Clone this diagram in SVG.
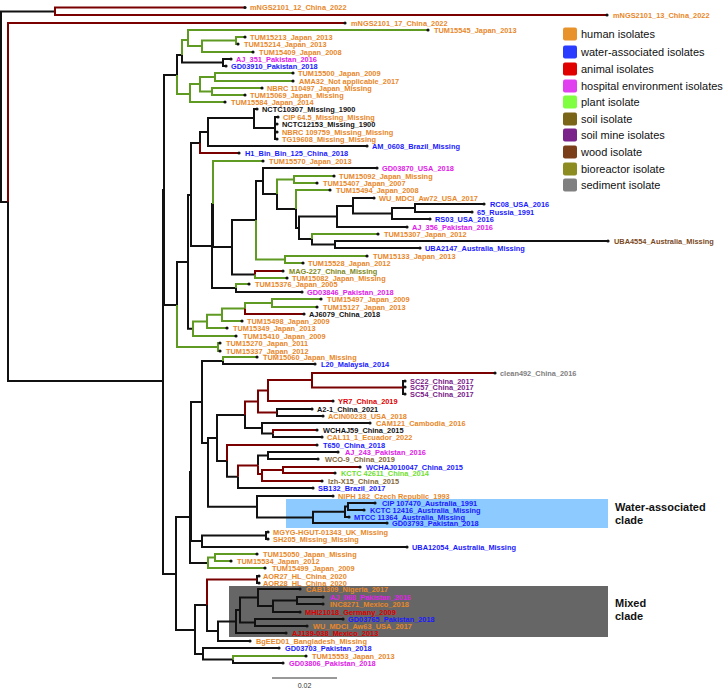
<svg xmlns="http://www.w3.org/2000/svg" width="725" height="688" viewBox="0 0 725 688">
<style>
.e{fill:none;stroke-width:2;stroke-linejoin:miter}
.k{stroke:#111}.g{stroke:#5f9a22}.r{stroke:#7a0000}
text{font-family:"Liberation Sans",Arial,sans-serif}
.l{font-size:7.4px;font-weight:bold}
.or{fill:#e8882a}.bl{fill:#1a1aff}.mg{fill:#e020e8}.rd{fill:#dd0000}.bk{fill:#111}.pu{fill:#7a1a8a}.wd{fill:#7b4a1e}.so{fill:#85683a}.bio{fill:#7f8a20}.pl{fill:#6fe030}.gy{fill:#808080}
.lg{font-size:11px;fill:#111}
.cl{font-size:11px;font-weight:bold;fill:#111}
.d{fill:#111}
</style>
<rect id="water-box" x="286" y="499" width="322" height="29" fill="#8ccaff"/>
<rect id="mixed-box" x="229" y="586" width="379" height="51" fill="#666666"/>
<g id="connectors">
<path class="e k" d="M1,107V11.5H55M1,107V202H8M8,202V381H163M163,381V190H164M163,381V574H176M164,190V75H177M164,190V305H177M177,75V55H182M182,55V62.5H223M223,62.5V59H231M223,62.5V66H226M177,305V262H188M188,262V195H191M188,262V328.7H193M191,195V143H200M191,195V246H212M200,143V132H208M208,132V118H254M208,132V146H367M254,118V109H257M254,118V128H275M275,128V117H278M275,128V124H277M275,128V132H277M275,128V139H277M212,246V204H213M212,246V288H236M213,204V247H232M232,247V220H256M232,247V274.5H255M256,220V181H263M263,181V168H377M263,181V194H277M277,194V209H296M296,209V228H299M299,228V216.5H337M299,228V239H312M337,216.5V206H353M337,216.5V227H407M353,206V198H374M353,206V213.5H392M392,213.5V208H415M392,213.5V219H430M415,208V204H484M415,208V212H472M312,239V244.5H335M335,244.5V241H608M335,244.5V248H420M236,288V292H302M176,574V517H190M176,574V630H195M190,517V472H191M190,517V563H208M191,472V402H202M191,472V541H202M202,402V361H223M202,402V443H208M223,361V364H315M202,541V535.5H266M202,541V547H407M266,535.5V532H268M266,535.5V539H268M208,443V438H217M208,443V506.7H257M217,438V415H245M217,438V461H227M245,415V428H262M403,387.5V381H405M403,387.5V387H405M403,387.5V394H405M277,412.5V409H312M277,412.5V416H323M262,428V423H370M262,428V433.5H273M273,433.5V437H322M227,461V476.75H238M238,476.75V488H313M258,465.5V455.5H268M268,455.5V452H338M268,455.5V459H318M257,506.7V496H333M257,506.7V517.4H313M313,517.4V511.75H345M313,517.4V523H387M345,511.75V506.5H348M345,511.75V517H349M348,506.5V503H375M348,506.5V510H364M195,630V605H207M195,630V654H203M207,605V631H218M257,579.5V576H259M257,579.5V583H259M218,631V621.5H236M218,631V641H250M236,621.5V610H240M236,621.5V633H286M240,610V597.5H258M240,610V622.5H255M258,597.5V589H300M258,597.5V606H273M273,606V600.5H297M273,606V612H300M297,600.5V597H323M297,600.5V604H323M255,622.5V619H343M255,622.5V626H307M203,654V648H279M203,654V659.5H233M233,659.5V663H283"/>
<path class="e g" d="M177,75V94H190M182,55V40H188M188,40V30H428M188,40V46H202M202,46V40.5H236M202,46V52H253M236,40.5V37H245M236,40.5V44H238M190,94V84H200M190,94V102H225M200,84V77H215M200,84V91.5H212M215,77V73H293M215,77V81H293M212,91.5V88H262M212,91.5V95H245M177,305V347H218M218,347V343H220M218,347V351H220M213,204V161H263M256,220V259.5H285M277,194V179.5H294M294,179.5V176H334M294,179.5V183H317M296,209V190H330M312,239V234H378M285,259.5V256H367M285,259.5V263H303M255,274.5V278H287M236,288V284H249M193,328.7V321.4H207M193,328.7V336H236M207,321.4V314.75H222M207,321.4V328H227M222,314.75V308.5H245M222,314.75V321H242M245,308.5V303H272M272,303V299H321M272,303V307H317M223,361V357H257M208,563V557.5H215M208,563V568H265M215,557.5V554H257M215,557.5V561H231M233,659.5V656H306"/>
<path class="e r" d="M55,11.5V7.5H245M55,11.5V15H607M8,202V23H345M200,143V153H239M255,274.5V271H283M245,308.5V314H304M245,415V401.5H258M258,401.5V390.5H268M258,401.5V412.5H277M268,390.5V380H312M268,390.5V401H333M312,380V373H495M312,380V387.5H403M273,433.5V430H317M227,461V445H317M238,476.75V465.5H258M258,465.5V474H262M262,474V470H283M262,474V481H322M283,470V467H360M283,470V473H335M207,605V579.5H257"/>
</g>
<g id="leaves">
<g id="n1"><circle class="d" cx="245" cy="7.5" r="1.6"/><text class="l or" x="250" y="10.1">mNGS2101_12_China_2022</text></g>
<g id="n2"><circle class="d" cx="607" cy="15" r="1.6"/><text class="l or" x="613" y="17.6">mNGS2101_13_China_2022</text></g>
<g id="n3"><circle class="d" cx="345" cy="23" r="1.6"/><text class="l or" x="351" y="25.6">mNGS2101_17_China_2022</text></g>
<g id="n4"><circle class="d" cx="428" cy="30" r="1.6"/><text class="l or" x="434" y="32.6">TUM15545_Japan_2013</text></g>
<g id="n5"><circle class="d" cx="245" cy="37" r="1.6"/><text class="l or" x="250" y="39.6">TUM15213_Japan_2013</text></g>
<g id="n6"><circle class="d" cx="238" cy="44" r="1.6"/><text class="l or" x="244" y="46.6">TUM15214_Japan_2013</text></g>
<g id="n7"><circle class="d" cx="253" cy="52" r="1.6"/><text class="l or" x="259" y="54.6">TUM15409_Japan_2008</text></g>
<g id="n8"><circle class="d" cx="231" cy="59" r="1.6"/><text class="l mg" x="236" y="61.6">AJ_351_Pakistan_2016</text></g>
<g id="n9"><circle class="d" cx="226" cy="66" r="1.6"/><text class="l bl" x="231" y="68.6">GD03910_Pakistan_2018</text></g>
<g id="n10"><circle class="d" cx="293" cy="73" r="1.6"/><text class="l or" x="298" y="75.6">TUM15500_Japan_2009</text></g>
<g id="n11"><circle class="d" cx="293" cy="81" r="1.6"/><text class="l or" x="299" y="83.6">AMA32_Not applicable_2017</text></g>
<g id="n12"><circle class="d" cx="262" cy="88" r="1.6"/><text class="l or" x="267" y="90.6">NBRC 110497_Japan_Missing</text></g>
<g id="n13"><circle class="d" cx="245" cy="95" r="1.6"/><text class="l or" x="250" y="97.6">TUM15069_Japan_Missing</text></g>
<g id="n14"><circle class="d" cx="225" cy="102" r="1.6"/><text class="l or" x="231" y="104.6">TUM15584_Japan_2014</text></g>
<g id="n15"><circle class="d" cx="257" cy="109" r="1.6"/><text class="l bk" x="262" y="111.6">NCTC10307_Missing_1900</text></g>
<g id="n16"><circle class="d" cx="278" cy="117" r="1.6"/><text class="l or" x="283" y="119.6">CIP 64.5_Missing_Missing</text></g>
<g id="n17"><circle class="d" cx="277" cy="124" r="1.6"/><text class="l bk" x="282" y="126.6">NCTC12153_Missing_1900</text></g>
<g id="n18"><circle class="d" cx="277" cy="132" r="1.6"/><text class="l or" x="282" y="134.6">NBRC 109759_Missing_Missing</text></g>
<g id="n19"><circle class="d" cx="277" cy="139" r="1.6"/><text class="l or" x="282" y="141.6">TG19608_Missing_Missing</text></g>
<g id="n20"><circle class="d" cx="367" cy="146" r="1.6"/><text class="l bl" x="372" y="148.6">AM_0608_Brazil_Missing</text></g>
<g id="n21"><circle class="d" cx="239" cy="153" r="1.6"/><text class="l bl" x="245" y="155.6">H1_Bin_Bin_125_China_2018</text></g>
<g id="n22"><circle class="d" cx="263" cy="161" r="1.6"/><text class="l or" x="269" y="163.6">TUM15570_Japan_2013</text></g>
<g id="n23"><circle class="d" cx="377" cy="168" r="1.6"/><text class="l mg" x="382" y="170.6">GD03870_USA_2018</text></g>
<g id="n24"><circle class="d" cx="334" cy="176" r="1.6"/><text class="l or" x="339" y="178.6">TUM15092_Japan_Missing</text></g>
<g id="n25"><circle class="d" cx="317" cy="183" r="1.6"/><text class="l or" x="323" y="185.6">TUM15407_Japan_2007</text></g>
<g id="n26"><circle class="d" cx="330" cy="190" r="1.6"/><text class="l or" x="336" y="192.6">TUM15494_Japan_2008</text></g>
<g id="n27"><circle class="d" cx="374" cy="198" r="1.6"/><text class="l or" x="379" y="200.6">WU_MDCI_Aw72_USA_2017</text></g>
<g id="n28"><circle class="d" cx="484" cy="204" r="1.6"/><text class="l bl" x="490" y="206.6">RC08_USA_2016</text></g>
<g id="n29"><circle class="d" cx="472" cy="212" r="1.6"/><text class="l bl" x="477" y="214.6">65_Russia_1991</text></g>
<g id="n30"><circle class="d" cx="430" cy="219" r="1.6"/><text class="l bl" x="435" y="221.6">RS03_USA_2016</text></g>
<g id="n31"><circle class="d" cx="407" cy="227" r="1.6"/><text class="l mg" x="412" y="229.6">AJ_356_Pakistan_2016</text></g>
<g id="n32"><circle class="d" cx="378" cy="234" r="1.6"/><text class="l or" x="384" y="236.6">TUM15307_Japan_2012</text></g>
<g id="n33"><circle class="d" cx="608" cy="241" r="1.6"/><text class="l wd" x="614" y="243.6">UBA4554_Australia_Missing</text></g>
<g id="n34"><circle class="d" cx="420" cy="248" r="1.6"/><text class="l bl" x="425" y="250.6">UBA2147_Australia_Missing</text></g>
<g id="n35"><circle class="d" cx="367" cy="256" r="1.6"/><text class="l or" x="373" y="258.6">TUM15133_Japan_2013</text></g>
<g id="n36"><circle class="d" cx="303" cy="263" r="1.6"/><text class="l or" x="308" y="265.6">TUM15528_Japan_2012</text></g>
<g id="n37"><circle class="d" cx="283" cy="271" r="1.6"/><text class="l bio" x="289" y="273.6">MAG-227_China_Missing</text></g>
<g id="n38"><circle class="d" cx="287" cy="278" r="1.6"/><text class="l or" x="292" y="280.6">TUM15082_Japan_Missing</text></g>
<g id="n39"><circle class="d" cx="249" cy="284" r="1.6"/><text class="l or" x="255" y="286.6">TUM15376_Japan_2005</text></g>
<g id="n40"><circle class="d" cx="302" cy="292" r="1.6"/><text class="l mg" x="307" y="294.6">GD03846_Pakistan_2018</text></g>
<g id="n41"><circle class="d" cx="321" cy="299" r="1.6"/><text class="l or" x="327" y="301.6">TUM15497_Japan_2009</text></g>
<g id="n42"><circle class="d" cx="317" cy="307" r="1.6"/><text class="l or" x="323" y="309.6">TUM15127_Japan_2013</text></g>
<g id="n43"><circle class="d" cx="304" cy="314" r="1.6"/><text class="l bk" x="309" y="316.6">AJ6079_China_2018</text></g>
<g id="n44"><circle class="d" cx="242" cy="321" r="1.6"/><text class="l or" x="247" y="323.6">TUM15498_Japan_2009</text></g>
<g id="n45"><circle class="d" cx="227" cy="328" r="1.6"/><text class="l or" x="233" y="330.6">TUM15349_Japan_2013</text></g>
<g id="n46"><circle class="d" cx="236" cy="336" r="1.6"/><text class="l or" x="243" y="338.6">TUM15410_Japan_2009</text></g>
<g id="n47"><circle class="d" cx="220" cy="343" r="1.6"/><text class="l or" x="226" y="345.6">TUM15270_Japan_2011</text></g>
<g id="n48"><circle class="d" cx="220" cy="351" r="1.6"/><text class="l or" x="226" y="353.6">TUM15337_Japan_2012</text></g>
<g id="n49"><circle class="d" cx="257" cy="357" r="1.6"/><text class="l or" x="263" y="359.6">TUM15060_Japan_Missing</text></g>
<g id="n50"><circle class="d" cx="315" cy="364" r="1.6"/><text class="l bl" x="321" y="366.6">L20_Malaysia_2014</text></g>
<g id="n51"><circle class="d" cx="495" cy="373" r="1.6"/><text class="l gy" x="500" y="375.6">clean492_China_2016</text></g>
<g id="n52"><circle class="d" cx="405" cy="381" r="1.6"/><text class="l pu" x="410" y="383.6">SC22_China_2017</text></g>
<g id="n53"><circle class="d" cx="405" cy="387" r="1.6"/><text class="l pu" x="410" y="389.6">SC57_China_2017</text></g>
<g id="n54"><circle class="d" cx="405" cy="394" r="1.6"/><text class="l pu" x="410" y="396.6">SC54_China_2017</text></g>
<g id="n55"><circle class="d" cx="333" cy="401" r="1.6"/><text class="l rd" x="338" y="403.6">YR7_China_2019</text></g>
<g id="n56"><circle class="d" cx="312" cy="409" r="1.6"/><text class="l bk" x="317" y="411.6">A2-1_China_2021</text></g>
<g id="n57"><circle class="d" cx="323" cy="416" r="1.6"/><text class="l or" x="328" y="418.6">ACIN00233_USA_2018</text></g>
<g id="n58"><circle class="d" cx="370" cy="423" r="1.6"/><text class="l or" x="376" y="425.6">CAM121_Cambodia_2016</text></g>
<g id="n59"><circle class="d" cx="317" cy="430" r="1.6"/><text class="l bk" x="323" y="432.6">WCHAJ59_China_2015</text></g>
<g id="n60"><circle class="d" cx="322" cy="437" r="1.6"/><text class="l or" x="327" y="439.6">CAL11_1_Ecuador_2022</text></g>
<g id="n61"><circle class="d" cx="317" cy="445" r="1.6"/><text class="l bl" x="323" y="447.6">T650_China_2018</text></g>
<g id="n62"><circle class="d" cx="338" cy="452" r="1.6"/><text class="l mg" x="345" y="454.6">AJ_243_Pakistan_2016</text></g>
<g id="n63"><circle class="d" cx="318" cy="459" r="1.6"/><text class="l so" x="325" y="461.6">WCO-9_China_2019</text></g>
<g id="n64"><circle class="d" cx="360" cy="467" r="1.6"/><text class="l bl" x="366" y="469.6">WCHAJ010047_China_2015</text></g>
<g id="n65"><circle class="d" cx="335" cy="473" r="1.6"/><text class="l pl" x="341" y="475.6">KCTC 42611_China_2014</text></g>
<g id="n66"><circle class="d" cx="322" cy="481" r="1.6"/><text class="l so" x="328" y="483.6">lzh-X15_China_2015</text></g>
<g id="n67"><circle class="d" cx="313" cy="488" r="1.6"/><text class="l bl" x="318" y="490.6">SB132_Brazil_2017</text></g>
<g id="n68"><circle class="d" cx="333" cy="496" r="1.6"/><text class="l or" x="338" y="498.6">NIPH 182_Czech Republic_1993</text></g>
<g id="n69"><circle class="d" cx="375" cy="503" r="1.6"/><text class="l bl" x="382" y="505.6">CIP 107470_Australia_1991</text></g>
<g id="n70"><circle class="d" cx="364" cy="510" r="1.6"/><text class="l bl" x="370" y="512.6">KCTC 12416_Australia_Missing</text></g>
<g id="n71"><circle class="d" cx="349" cy="517" r="1.6"/><text class="l bl" x="354" y="519.6">MTCC 11364_Australia_Missing</text></g>
<g id="n72"><circle class="d" cx="387" cy="523" r="1.6"/><text class="l bl" x="392" y="525.6">GD03793_Pakistan_2018</text></g>
<g id="n73"><circle class="d" cx="268" cy="532" r="1.6"/><text class="l or" x="273" y="534.6">MGYG-HGUT-01343_UK_Missing</text></g>
<g id="n74"><circle class="d" cx="268" cy="539" r="1.6"/><text class="l or" x="273" y="541.6">SH205_Missing_Missing</text></g>
<g id="n75"><circle class="d" cx="407" cy="547" r="1.6"/><text class="l bl" x="412" y="549.6">UBA12054_Australia_Missing</text></g>
<g id="n76"><circle class="d" cx="257" cy="554" r="1.6"/><text class="l or" x="263" y="556.6">TUM15050_Japan_Missing</text></g>
<g id="n77"><circle class="d" cx="231" cy="561" r="1.6"/><text class="l or" x="237" y="563.6">TUM15534_Japan_2012</text></g>
<g id="n78"><circle class="d" cx="265" cy="568" r="1.6"/><text class="l or" x="272" y="570.6">TUM15499_Japan_2009</text></g>
<g id="n79"><circle class="d" cx="259" cy="576" r="1.6"/><text class="l or" x="263" y="578.6">AOR27_HL_China_2020</text></g>
<g id="n80"><circle class="d" cx="259" cy="583" r="1.6"/><text class="l or" x="263" y="585.6">AOR28_HL_China_2020</text></g>
<g id="n81"><circle class="d" cx="300" cy="589" r="1.6"/><text class="l or" x="306" y="591.6">CAB1309_Nigeria_2017</text></g>
<g id="n82"><circle class="d" cx="323" cy="597" r="1.6"/><text class="l mg" x="330" y="599.6">AJ_068_Pakistan_2016</text></g>
<g id="n83"><circle class="d" cx="323" cy="604" r="1.6"/><text class="l or" x="330" y="606.6">INC8271_Mexico_2018</text></g>
<g id="n84"><circle class="d" cx="300" cy="612" r="1.6"/><text class="l rd" x="305" y="614.6">MHI21018_Germany_2009</text></g>
<g id="n85"><circle class="d" cx="343" cy="619" r="1.6"/><text class="l bl" x="348" y="621.6">GD03765_Pakistan_2018</text></g>
<g id="n86"><circle class="d" cx="307" cy="626" r="1.6"/><text class="l or" x="313" y="628.6">WU_MDCI_Aw63_USA_2017</text></g>
<g id="n87"><circle class="d" cx="286" cy="633" r="1.6"/><text class="l rd" x="292" y="635.6">AJ139-038_Mexico_2013</text></g>
<g id="n88"><circle class="d" cx="250" cy="641" r="1.6"/><text class="l or" x="256" y="643.6">BgEED01_Bangladesh_Missing</text></g>
<g id="n89"><circle class="d" cx="279" cy="648" r="1.6"/><text class="l bl" x="285" y="650.6">GD03703_Pakistan_2018</text></g>
<g id="n90"><circle class="d" cx="306" cy="656" r="1.6"/><text class="l or" x="312" y="658.6">TUM15553_Japan_2013</text></g>
<g id="n91"><circle class="d" cx="283" cy="663" r="1.6"/><text class="l mg" x="289" y="665.6">GD03806_Pakistan_2018</text></g>
</g>
<g id="clade-labels">
<text class="cl" x="615" y="511">Water-associated</text>
<text class="cl" x="615" y="524">clade</text>
<text class="cl" x="615" y="606.5">Mixed</text>
<text class="cl" x="615" y="620">clade</text>
</g>
<g id="legend">
<rect x="563" y="27.5" width="14" height="13" rx="2" fill="#e8922a"/><text class="lg" x="581" y="38">human isolates</text>
<rect x="563" y="45.5" width="14" height="13" rx="2" fill="#2a3cff"/><text class="lg" x="581" y="56">water-associated isolates</text>
<rect x="563" y="62.5" width="14" height="13" rx="2" fill="#e00000"/><text class="lg" x="581" y="73">animal isolates</text>
<rect x="563" y="79.5" width="14" height="13" rx="2" fill="#e040f0"/><text class="lg" x="581" y="90">hospital environment isolates</text>
<rect x="563" y="95.5" width="14" height="13" rx="2" fill="#80ff40"/><text class="lg" x="581" y="106">plant isolate</text>
<rect x="563" y="112.5" width="14" height="13" rx="2" fill="#7a6418"/><text class="lg" x="581" y="123">soil isolate</text>
<rect x="563" y="128.5" width="14" height="13" rx="2" fill="#7a228a"/><text class="lg" x="581" y="139">soil mine isolates</text>
<rect x="563" y="145.5" width="14" height="13" rx="2" fill="#7a3f18"/><text class="lg" x="581" y="156">wood isolate</text>
<rect x="563" y="162.5" width="14" height="13" rx="2" fill="#8c8c20"/><text class="lg" x="581" y="173">bioreactor isolate</text>
<rect x="563" y="178.5" width="14" height="13" rx="2" fill="#808080"/><text class="lg" x="581" y="189">sediment isolate</text>
</g>
<g id="scale-bar">
<line x1="272" y1="678" x2="337" y2="678" stroke="#333" stroke-width="1"/>
<text x="304.5" y="687.5" font-size="7" text-anchor="middle" fill="#333">0.02</text>
</g>
</svg>
